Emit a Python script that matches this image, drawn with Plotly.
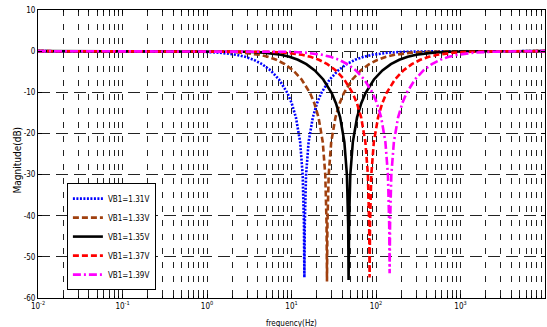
import plotly.graph_objects as go

# ---- data (frequency in Hz, magnitude in dB) ----
f_131 = [0.01, 0.449, 0.896, 1.42, 2.25, 2.83, 3.57, 4.49, 5.65, 7.12, 8.96, 10.05, 11.28, 12.66, 13.56, 14.04,
         14.2, 14.36, 14.87, 15.93, 17.88, 20.06, 22.51, 28.33, 35.67, 44.9, 56.53, 71.17, 89.6, 142, 225, 449, 10000]
f_133 = [0.01, 0.832, 1.66, 2.63, 4.17, 5.25, 6.61, 8.32, 10.47, 13.18, 16.6, 18.62, 20.89, 23.44, 25.12, 26.0,
         26.3, 26.61, 27.54, 29.51, 33.11, 37.16, 41.69, 52.47, 66.07, 83.16, 104.7, 131.8, 166, 263, 416.9, 831.6, 10000]
f_135 = [0.01, 1.499, 2.99, 4.74, 7.51, 9.46, 11.91, 14.99, 18.87, 23.76, 29.91, 33.55, 37.65, 42.25, 45.27, 46.86,
         47.4, 47.95, 49.63, 53.18, 59.68, 66.98, 75.13, 94.56, 119.1, 149.9, 188.7, 237.6, 299.1, 474, 751.3, 1499, 10000]
f_137 = [0.01, 2.656, 5.30, 8.4, 13.31, 16.76, 21.1, 26.56, 33.44, 42.1, 53.0, 59.46, 66.72, 74.87, 80.22, 83.04,
         84, 84.97, 87.96, 94.25, 105.8, 118.7, 133.1, 167.6, 211, 265.6, 334.4, 421, 530, 840, 1331, 2656, 10000]
f_139 = [0.01, 4.585, 9.15, 14.5, 22.98, 28.93, 36.42, 45.85, 57.72, 72.67, 91.5, 102.6, 115.2, 129.2, 138.5, 143.3,
         145, 146.7, 151.8, 162.7, 182.6, 204.9, 229.8, 289.3, 364.2, 458.5, 577.2, 726.7, 914.9, 1450, 2298, 4585, 10000]

db_131 = [0, -0.04, -0.15, -0.37, -0.89, -1.38, -2.1, -3.16, -4.68, -6.88, -10.2, -12.65, -16.1, -22.1, -30.1, -42.1,
          -55.0, -42.1, -30.1, -22.1, -16.1, -12.65, -10.2, -6.88, -4.68, -3.16, -2.1, -1.38, -0.89, -0.37, -0.15, -0.04, 0]
db_133 = [0, -0.04, -0.15, -0.37, -0.89, -1.38, -2.1, -3.16, -4.68, -6.88, -10.2, -12.65, -16.1, -22.1, -30.1, -42.1,
          -56.0, -42.1, -30.1, -22.1, -16.1, -12.65, -10.2, -6.88, -4.68, -3.16, -2.1, -1.38, -0.89, -0.37, -0.15, -0.04, 0]
db_135 = [0, -0.04, -0.15, -0.37, -0.89, -1.38, -2.1, -3.16, -4.68, -6.88, -10.2, -12.65, -16.1, -22.1, -30.1, -42.1,
          -55.6, -42.1, -30.1, -22.1, -16.1, -12.65, -10.2, -6.88, -4.68, -3.16, -2.1, -1.38, -0.89, -0.37, -0.15, -0.04, 0]
db_137 = [0, -0.04, -0.15, -0.37, -0.89, -1.38, -2.1, -3.16, -4.68, -6.88, -10.2, -12.65, -16.1, -22.1, -30.1, -42.1,
          -55.0, -42.1, -30.1, -22.1, -16.1, -12.65, -10.2, -6.88, -4.68, -3.16, -2.1, -1.38, -0.89, -0.37, -0.15, -0.04, 0]
db_139 = [0, -0.04, -0.15, -0.37, -0.89, -1.38, -2.1, -3.16, -4.68, -6.88, -10.2, -12.65, -16.1, -22.1, -30.1, -42.1,
          -54.0, -42.1, -30.1, -22.1, -16.1, -12.65, -10.2, -6.88, -4.68, -3.16, -2.1, -1.38, -0.89, -0.37, -0.15, -0.04, 0]

series_names = ["VB1=1.31V", "VB1=1.33V", "VB1=1.35V", "VB1=1.37V", "VB1=1.39V"]

x_decades = [0.01, 0.1, 1, 10, 100, 1000, 10000]
x_decade_labels = ["10<sup>-2</sup>", "10<sup>-1</sup>", "10<sup>0</sup>", "10<sup>1</sup>",
                   "10<sup>2</sup>", "10<sup>3</sup>", "10<sup>4</sup>"]
y_ticks = [10, 0, -10, -20, -30, -40, -50, -60]

# ---- styling ----
FONT = "Liberation Sans Narrow, Arial Narrow, DejaVu Sans Condensed, sans-serif"
styles = [
    dict(color="#0000ff", dash="2px,1.5px"),
    dict(color="#a0400f", dash="6px,3px"),
    dict(color="#000000", dash="solid"),
    dict(color="#ff0000", dash="6px,3px"),
    dict(color="#ff00ff", dash="8px,3px,2px,3px"),
]

# minor gridlines at 2..9 x 10^k on the log axis
minor_vals = [d * m for d in x_decades[:-1] for m in range(2, 10)]

fig = go.Figure()
all_f = [f_131, f_133, f_135, f_137, f_139]
all_db = [db_131, db_133, db_135, db_137, db_139]
for name, fx, dy, st in zip(series_names, all_f, all_db, styles):
    fig.add_trace(go.Scatter(x=fx, y=dy, mode="lines", name=name,
                             line=dict(color=st["color"], dash=st["dash"], width=2.6)))

GRID_DASH_V = "6px,8px"
fig.update_layout(
    width=547, height=327,
    margin=dict(l=38, r=2, t=10, b=29),
    paper_bgcolor="white", plot_bgcolor="white",
    font=dict(family=FONT, size=8, color="black"),
    showlegend=True,
    legend=dict(x=0.057, y=0.399, xanchor="left", yanchor="top",
                bgcolor="white", bordercolor="black", borderwidth=1,
                font=dict(family=FONT, size=8, color="black"),
                tracegroupgap=0),
)
fig.update_xaxes(
    type="log", range=[-2, 4],
    tickmode="array", tickvals=x_decades, ticktext=x_decade_labels,
    ticks="inside", ticklen=4, tickcolor="black",
    showgrid=True, gridcolor="#222222", gridwidth=1, griddash=GRID_DASH_V,
    minor=dict(tickmode="array", tickvals=minor_vals, ticks="inside", ticklen=2,
               tickcolor="black", showgrid=True, gridcolor="#222222", gridwidth=1,
               griddash=GRID_DASH_V),
    showline=True, linecolor="black", linewidth=1, mirror="allticks",
    zeroline=False, tickfont=dict(family=FONT, size=8),
)
fig.update_yaxes(
    range=[-60, 10],
    tickmode="array", tickvals=y_ticks, ticktext=[str(v) for v in y_ticks],
    ticks="inside", ticklen=4, tickcolor="black",
    showgrid=True, gridcolor="#222222", gridwidth=1, griddash="12px,6px",
    showline=True, linecolor="black", linewidth=1, mirror="allticks",
    zeroline=False, tickfont=dict(family=FONT, size=8),
)
fig.add_annotation(text="Magnitude(dB)", xref="paper", yref="paper", x=-0.04, y=0.48,
                   textangle=-90, showarrow=False, xanchor="center",
                   font=dict(family=FONT, size=10, color="black"))
fig.add_annotation(text="frequency(Hz)", xref="paper", yref="paper", x=0.5, y=-0.065,
                   showarrow=False, yanchor="top",
                   font=dict(family=FONT, size=8, color="black"))

fig.write_html("out.html")
